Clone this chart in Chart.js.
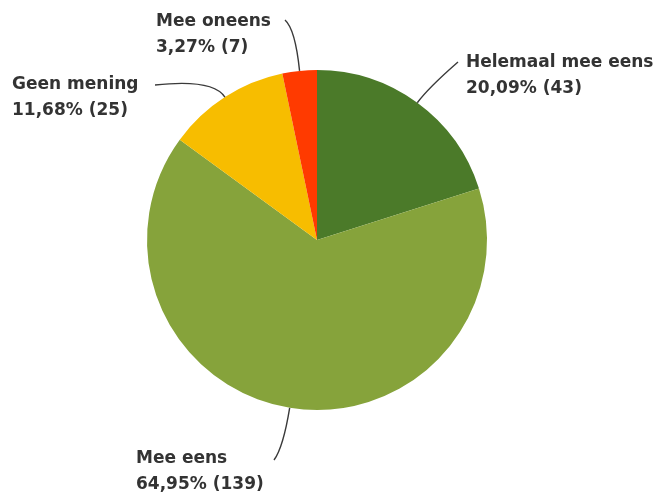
<!DOCTYPE html>
<html>
<head>
<meta charset="utf-8">
<script src="https://cdn.jsdelivr.net/npm/chart.js@4"></script>
<style>
  html, body { margin: 0; padding: 0; background: #fff; }
  #chart-wrap { width: 657px; height: 495px; }
</style>
</head>
<body>
<div id="chart-wrap"><canvas id="pie-chart" width="657" height="495"></canvas></div>
<script>
const categories = ['Helemaal mee eens', 'Mee eens', 'Geen mening', 'Mee oneens'];
const percentages = [20.09, 64.95, 11.68, 3.27];
const counts = [43, 139, 25, 7];
const sliceColors = ['#4b7a29', '#86a33b', '#f7bd00', '#ff3a00'];

// where each label sits and where its leader line ends (layout only)
const labelLayout = [
    { x: 466, y: 63, endX: 458, endY: 62, ctrl: 18, align: 'left' },
    { x: 136, y: 459, endX: 274, endY: 460, ctrl: 40, align: 'left' },
    { x: 12, y: 85, endX: 155, endY: 85, ctrl: 22, align: 'left' },
    { x: 156, y: 22, endX: 285, endY: 20, ctrl: 42, align: 'left' },
];

const leaderLabelPlugin = {
    id: 'leaderLabels',
    afterDatasetsDraw(chart) {
        const ctx = chart.ctx;
        const meta = chart.getDatasetMeta(0);
        ctx.save();
        meta.data.forEach((arc, i) => {
            const lay = labelLayout[i];
            const mid = (arc.startAngle + arc.endAngle) / 2;
            const ax = arc.x + Math.cos(mid) * arc.outerRadius;
            const ay = arc.y + Math.sin(mid) * arc.outerRadius;
            const cx = ax + Math.cos(mid) * lay.ctrl;
            const cy = ay + Math.sin(mid) * lay.ctrl;
            ctx.beginPath();
            ctx.moveTo(ax, ay);
            ctx.quadraticCurveTo(cx, cy, lay.endX, lay.endY);
            ctx.strokeStyle = '#3a3a3a';
            ctx.lineWidth = 1.4;
            ctx.stroke();

            ctx.fillStyle = '#333';
            ctx.font = 'bold 17px "DejaVu Sans"';
            ctx.textAlign = lay.align;
            ctx.textBaseline = 'middle';
            ctx.fillText(categories[i], lay.x, lay.y);
            const pct = percentages[i].toFixed(2).replace('.', ',') + '% (' + counts[i] + ')';
            ctx.fillText(pct, lay.x, lay.y + 26);
        });
        ctx.restore();
    }
};

const pieCtx = document.getElementById('pie-chart').getContext('2d');
const pieChart = new Chart(pieCtx, {
    type: 'pie',
    data: {
        labels: categories,
        datasets: [
            {
                data: percentages,
                backgroundColor: sliceColors,
                borderWidth: 0
            }
        ]
    },
    options: {
        responsive: false,
        animation: false,
        layout: {
            padding: { left: 147, right: 170, top: 70, bottom: 85 }
        },
        plugins: {
            legend: { display: false },
            tooltip: { enabled: false }
        }
    },
    plugins: [ leaderLabelPlugin ],
});
</script>
</body>
</html>
